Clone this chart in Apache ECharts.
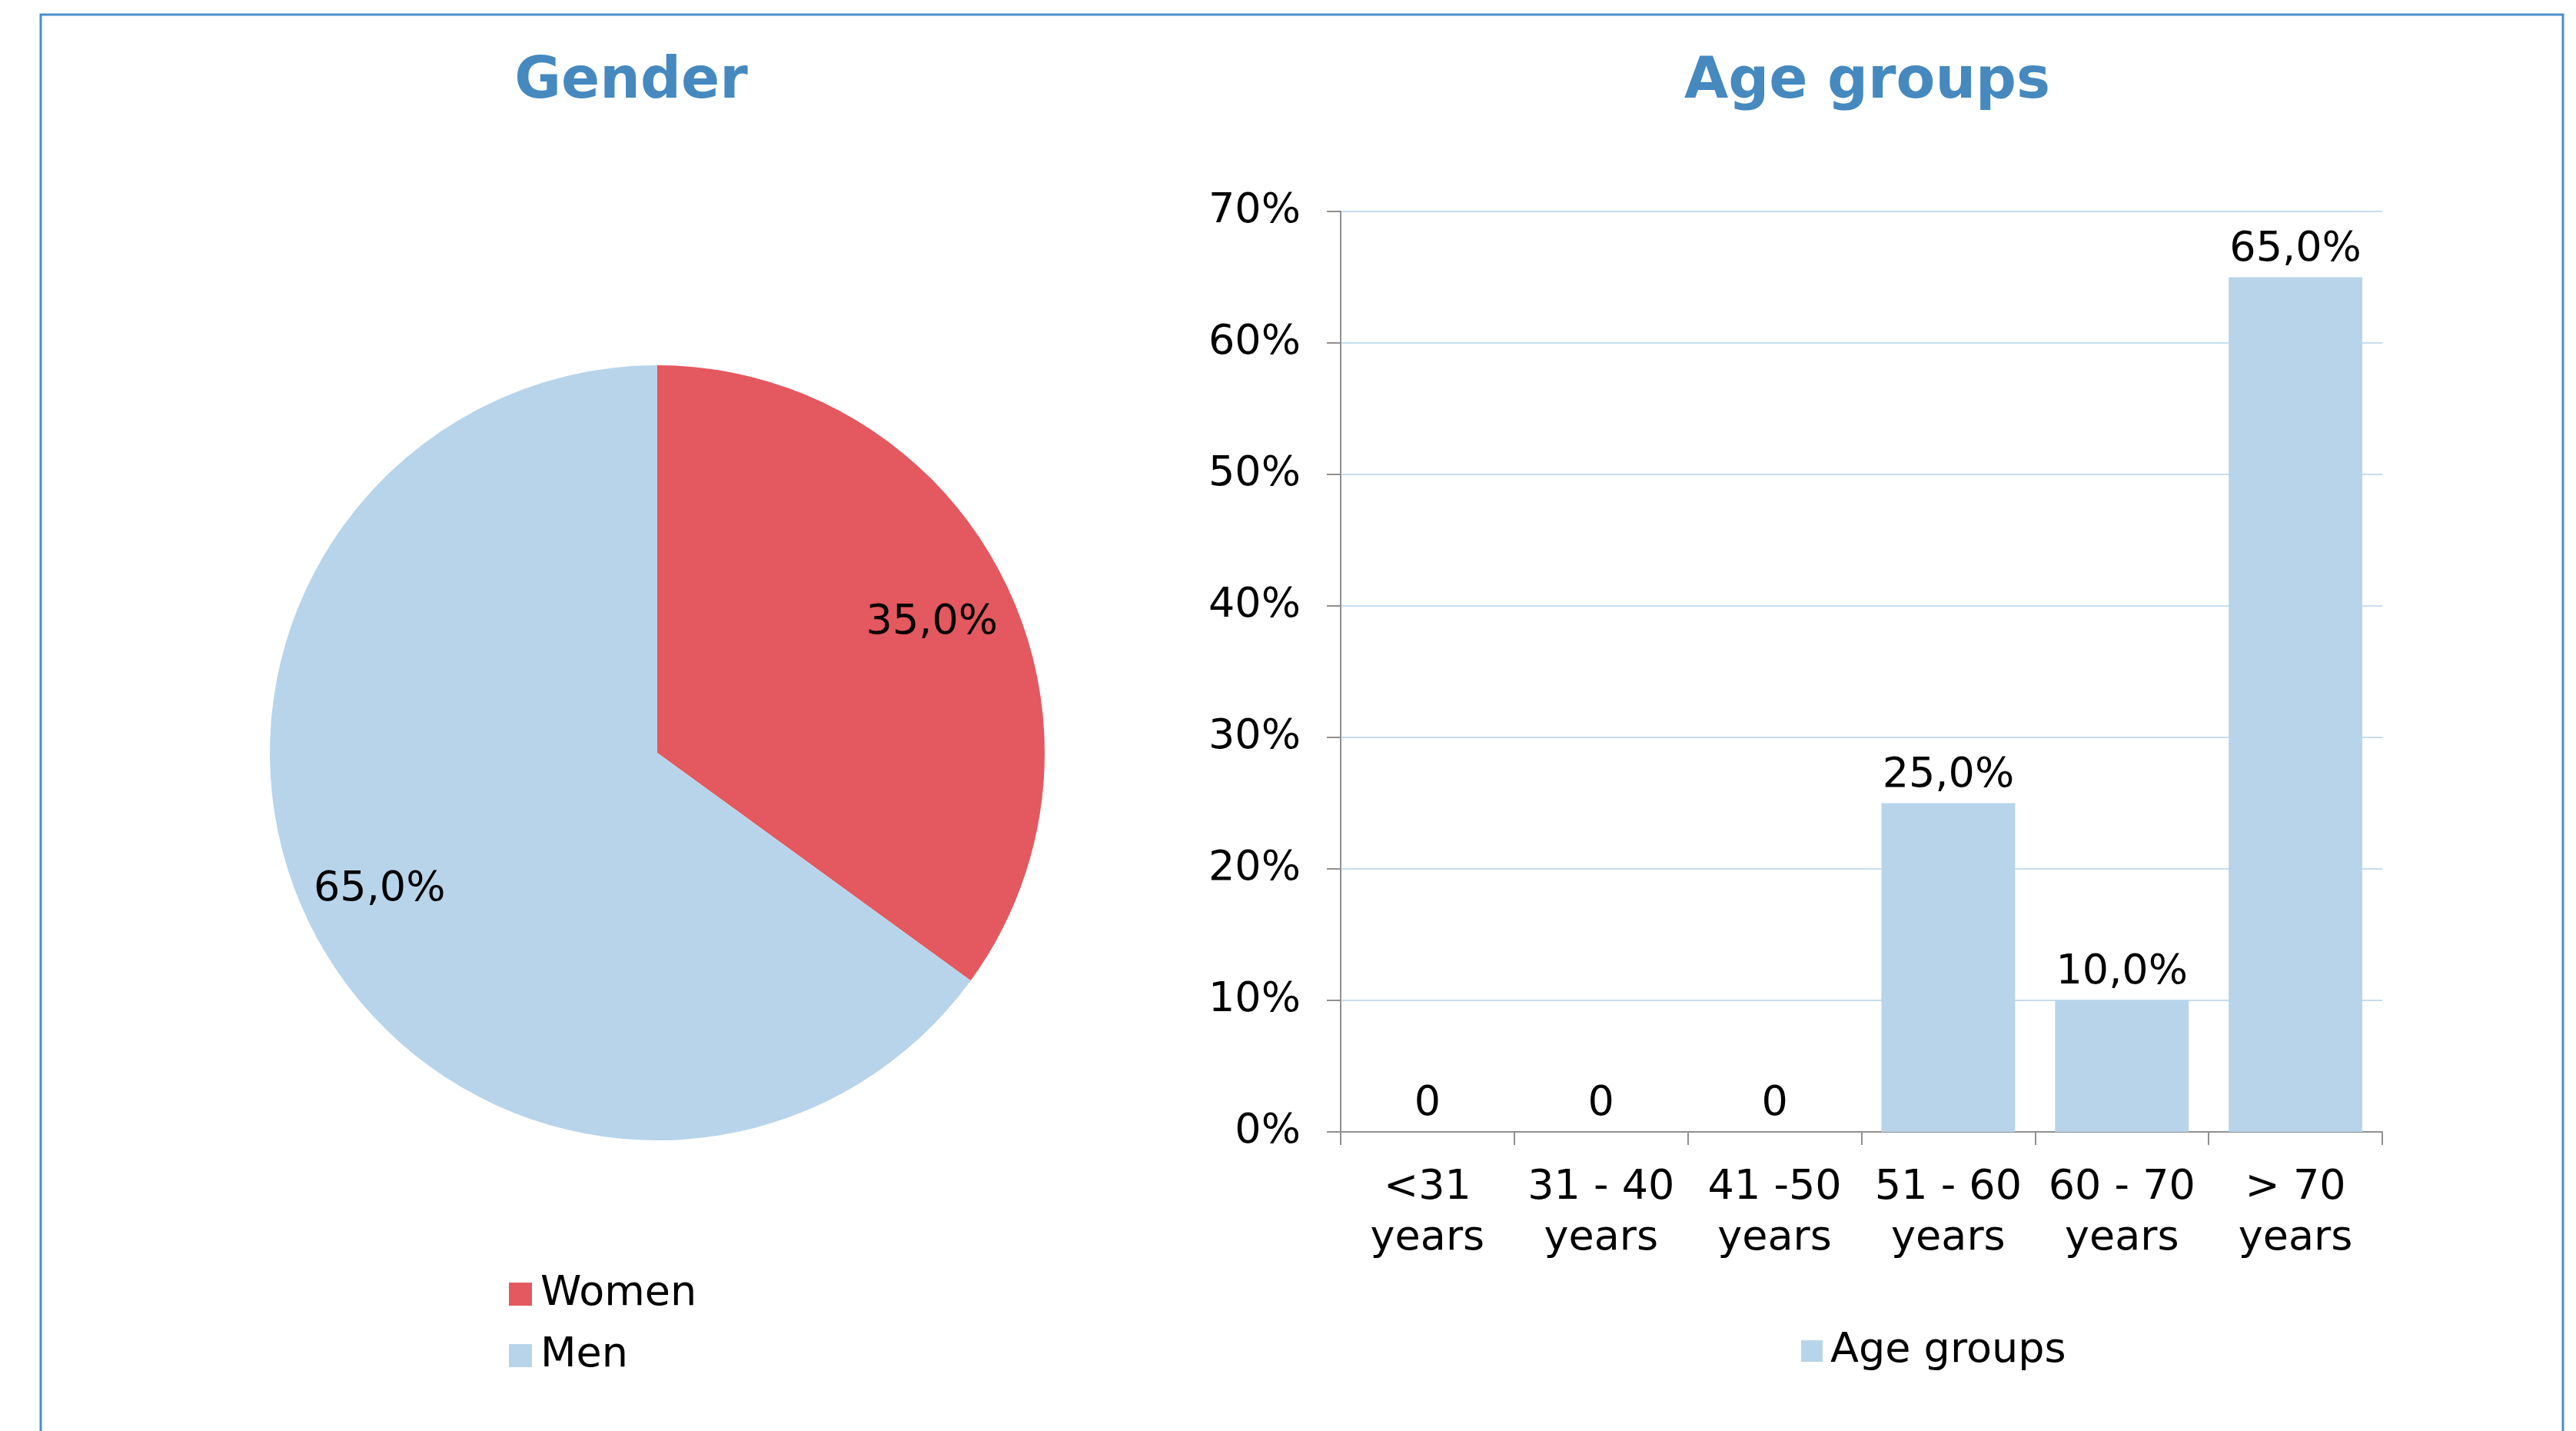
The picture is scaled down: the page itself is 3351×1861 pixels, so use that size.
<!DOCTYPE html>
<html>
<head>
<meta charset="utf-8">
<script src="https://cdn.jsdelivr.net/npm/echarts@6/dist/echarts.min.js"></script>
<style>
html, body {margin: 0; padding: 0; background: #fff;}
#main {width: 3351px; height: 1861px;}
</style>
</head>
<body>
<div id="main"></div>
<script>
// data
var genders = ['Women', 'Men'];
var genderShare = [35, 65];
var ageGroups = ['<31\nyears', '31 - 40\nyears', '41 -50\nyears', '51 - 60\nyears', '60 - 70\nyears', '> 70\nyears'];
var ageShare = [0, 0, 0, 25, 10, 65];

var red = '#E4585F';
var blue = '#B8D4EA';
var font = 'DejaVu Sans, Verdana, sans-serif';

function pct(v) {
    return v.toFixed(1).replace('.', ',') + '%';
}

var pieData = [];
for (var i = 0; i < genders.length; i++) {
    pieData.push({name: genders[i], value: genderShare[i], itemStyle: {color: i == 0 ? red : blue}});
}

var myChart = echarts.init(document.getElementById('main'));
myChart.setOption({
    backgroundColor: '#fff',
    animation: false,
    textStyle: {fontFamily: font},
    graphic: [{
        type: 'rect',
        shape: {x: 53, y: 19, width: 3281, height: 1900},
        style: {fill: 'none', stroke: '#4A8FCC', lineWidth: 3},
        silent: true
    }],
    title: [
        {
            text: 'Gender', left: 816, top: 66, textAlign: 'center',
            textStyle: {fontFamily: font, fontWeight: 'bold', fontSize: 74, color: '#4589BF'}
        },
        {
            text: 'Age groups', left: 2424, top: 66, textAlign: 'center',
            textStyle: {fontFamily: font, fontWeight: 'bold', fontSize: 74, color: '#4589BF'}
        }
    ],
    legend: [
        {
            data: genders,
            orient: 'vertical',
            left: 657, top: 1651,
            itemWidth: 30, itemHeight: 30, itemGap: 26,
            icon: 'rect',
            textStyle: {fontFamily: font, fontSize: 54, color: '#000', lineHeight: 54, padding: [0, 0, 0, 6]}
        },
        {
            data: ['Age groups'],
            left: 2338, top: 1725,
            itemWidth: 28, itemHeight: 28,
            icon: 'rect',
            textStyle: {fontFamily: font, fontSize: 54, color: '#000', lineHeight: 54, padding: [0, 0, 0, 5]}
        }
    ],
    grid: {left: 1744, right: 252, top: 275, bottom: 389},
    xAxis: {
        type: 'category',
        data: ageGroups,
        axisLine: {lineStyle: {color: '#909090', width: 2}},
        axisTick: {show: true, length: 17, lineStyle: {color: '#909090', width: 2}},
        axisLabel: {fontFamily: font, fontSize: 54, color: '#000', lineHeight: 66, margin: 40, interval: 0}
    },
    yAxis: {
        type: 'value',
        min: 0, max: 70, interval: 10,
        axisLine: {show: true, lineStyle: {color: '#909090', width: 2}},
        axisTick: {show: true, length: 18, lineStyle: {color: '#909090', width: 2}},
        axisLabel: {fontFamily: font, fontSize: 54, color: '#000', margin: 52, padding: [8, 0, 0, 0], formatter: '{value}%'},
        splitLine: {lineStyle: {color: '#C6DDF1', width: 2}}
    },
    series: [
        {
            name: 'Gender',
            type: 'pie',
            center: [855, 979],
            radius: [0, 504],
            startAngle: 90,
            clockwise: true,
            data: pieData,
            label: {show: false},
            labelLine: {show: false}
        },
        {
            // transparent ring only to place the labels at ~0.79 radius
            name: 'GenderLabels',
            type: 'pie',
            center: [855, 979],
            radius: [292, 504],
            startAngle: 90,
            clockwise: true,
            silent: true,
            data: pieData.map(function (d, k) {
                return {
                    name: d.name, value: d.value,
                    itemStyle: {color: 'rgba(0,0,0,0)'},
                    label: {offset: k == 0 ? [0, 13] : [-4, -4]}
                };
            }),
            label: {
                show: true, position: 'inside',
                fontFamily: font, fontSize: 54, color: '#000',
                formatter: function (p) { return pct(p.percent); }
            },
            labelLine: {show: false},
            emphasis: {disabled: true}
        },
        {
            name: 'Age groups',
            type: 'bar',
            data: ageShare,
            barWidth: '77%',
            itemStyle: {color: blue},
            label: {
                show: true, position: 'top', distance: 9,
                fontFamily: font, fontSize: 54, color: '#000',
                formatter: function (p) { return p.value === 0 ? '0' : pct(p.value); }
            }
        }
    ]
});
</script>
</body>
</html>
